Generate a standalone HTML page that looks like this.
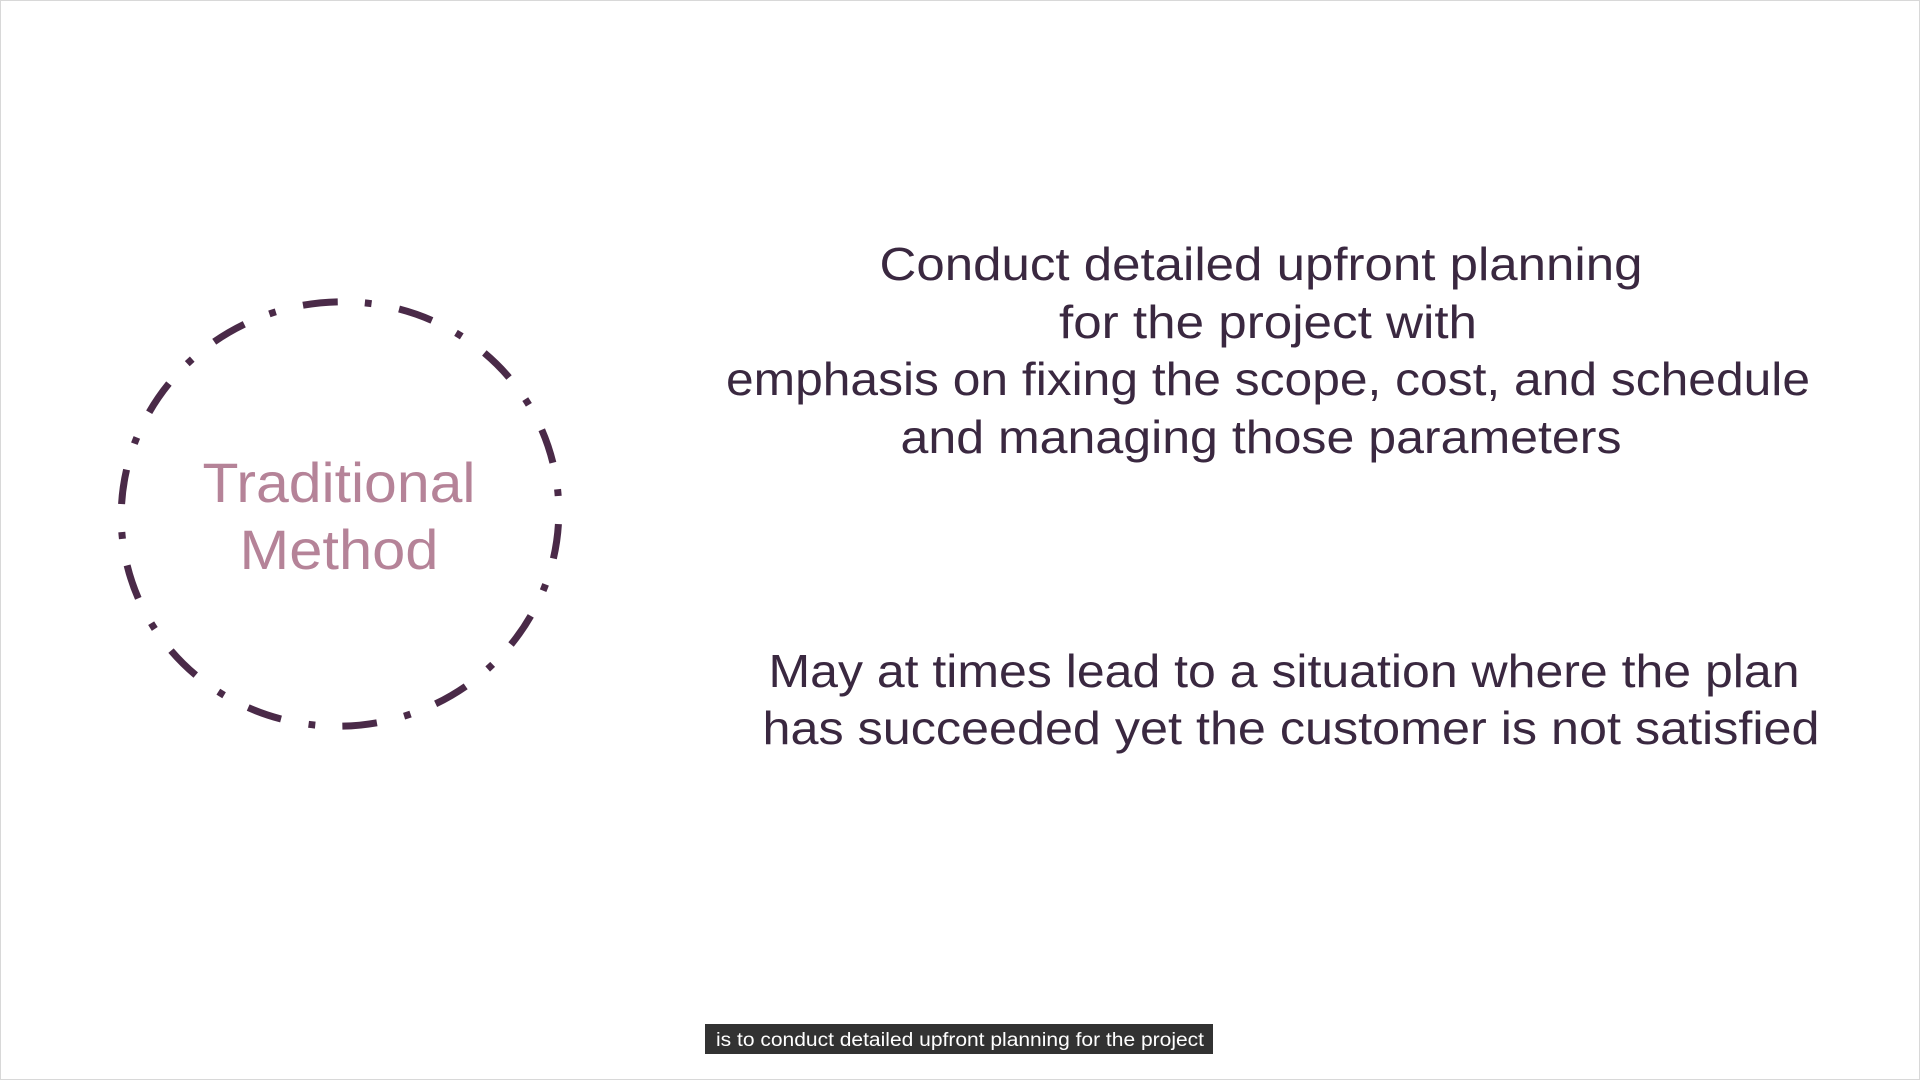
<!DOCTYPE html>
<html><head><meta charset="utf-8"><style>
html,body{margin:0;padding:0;background:#fff;}
svg{display:block;}
</style></head><body>
<svg width="1920" height="1080" viewBox="0 0 1920 1080" xmlns="http://www.w3.org/2000/svg">
<rect x="0.5" y="0.5" width="1919" height="1079" fill="#fff" stroke="#d8d8d8"/>
<ellipse cx="340" cy="514" rx="212" ry="219" fill="none" stroke="#4a2a48" stroke-width="7" pathLength="1400" stroke-dasharray="36 28 7 29" transform="rotate(-100 340 514)"/>
<g font-family="Liberation Sans, sans-serif" fill="#b58398" font-size="56" text-anchor="middle">
<text x="339" y="502" textLength="273" lengthAdjust="spacingAndGlyphs">Traditional</text>
<text x="339" y="569" textLength="199" lengthAdjust="spacingAndGlyphs">Method</text>
</g>
<g font-family="Liberation Sans, sans-serif" fill="#3a2840" font-size="46" text-anchor="middle">
<text x="1261" y="280" textLength="763" lengthAdjust="spacingAndGlyphs">Conduct detailed upfront planning</text>
<text x="1268" y="338" textLength="418" lengthAdjust="spacingAndGlyphs">for the project with</text>
<text x="1268" y="395" textLength="1084" lengthAdjust="spacingAndGlyphs">emphasis on fixing the scope, cost, and schedule</text>
<text x="1261" y="453" textLength="721" lengthAdjust="spacingAndGlyphs">and managing those parameters</text>
<text x="1284" y="687" textLength="1031" lengthAdjust="spacingAndGlyphs">May at times lead to a situation where the plan</text>
<text x="1291" y="744" textLength="1057" lengthAdjust="spacingAndGlyphs">has succeeded yet the customer is not satisfied</text>
</g>
<rect x="705" y="1024" width="508" height="30" fill="#1c1c1c" fill-opacity="0.9"/>
<text x="960" y="1046" font-family="Liberation Sans, sans-serif" font-size="19" fill="#fff" text-anchor="middle" textLength="488" lengthAdjust="spacingAndGlyphs">is to conduct detailed upfront planning for the project</text>
</svg>
</body></html>
